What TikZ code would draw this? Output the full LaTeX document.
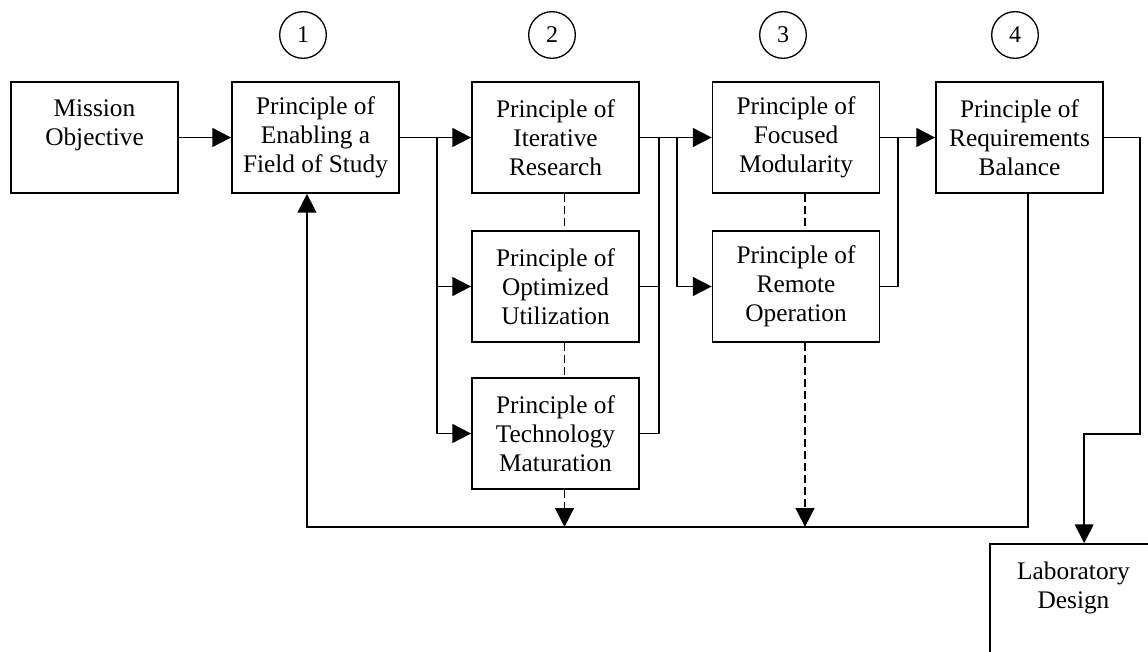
\documentclass[tikz,border=0pt]{standalone}
\usepackage{fontspec}
\setmainfont{Liberation Serif}
\usetikzlibrary{arrows.meta}
\tikzset{
  box/.style={draw, line width=1.3pt, minimum width=125.25pt, minimum height=83.25pt,
    align=center, inner sep=0pt, font=\fontsize{19}{21.75}\selectfont},
  num/.style={draw, circle, line width=1pt, minimum size=35pt, inner sep=0pt,
    font=\fontsize{18}{20}\selectfont},
  flow/.style={line width=1.3pt},
  arr/.style={flow, -{Triangle[length=14pt,width=14pt]}},
  linkdash/.style={flow, dash pattern=on 6pt off 3pt}
}

\begin{document}
\begin{tikzpicture}[x=0.75pt,y=-0.75pt]
    \useasboundingbox (0,0) rectangle (1148,652);
    \clip (0,0) rectangle (1148,652);
    %
    \node[num] (n1) at (303,35) {1};
    \node[num] (n2) at (552,35) {2};
    \node[num] (n3) at (783,35) {3};
    \node[num] (n4) at (1015,35) {4};
    %
    \node[box] (mission) at (94.5,137.5) {Mission\\Objective\\\mbox{}};
    \node[box] (enab) at (315.5,137.5) {Principle of\\Enabling a\\Field of Study};
    \node[box] (iter) at (555.5,137.5) {Principle of\\Iterative\\Research};
    \node[box] (optim) at (555.5,286.5) {Principle of\\Optimized\\Utilization};
    \node[box] (tech) at (555.5,433.5) {Principle of\\Technology\\Maturation};
    \node[box] (focus) at (796,137.5) {Principle of\\Focused\\Modularity};
    \node[box] (remote) at (796,286.5) {Principle of\\Remote\\Operation};
    \node[box] (req) at (1019.5,137.5) {Principle of\\Requirements\\Balance};
    \node[box] (lab) at (1073.5,599.5) {Laboratory\\Design\\\mbox{}};
    %
    \coordinate (b1) at (437,137.5);
    \coordinate (j2) at (659,137.5);
    \coordinate (b2) at (677,137.5);
    \coordinate (j3) at (898,137.5);
    \coordinate (labin) at ([xshift=8pt]lab.north);
    \coordinate (fbout) at ([xshift=6.4pt]req.south);
    \coordinate (fbin) at ([xshift=-6.4pt]enab.south);
    %
    \draw[arr] (mission) -- (enab);
    \draw[arr] (enab) -- (iter);
    \draw[arr] (b1) |- (optim);
    \draw[arr] (b1) |- (tech);
    \draw[arr] (iter) -- (focus);
    \draw[flow] (optim.east) -- (optim.east -| j2);
    \draw[flow] (tech.east) -| (j2);
    \draw[arr] (b2) |- (remote);
    \draw[arr] (focus) -- (req);
    \draw[flow] (remote.east) -| (j3);
    \draw[arr] (req.east) -| (1140,434) -| (labin);
    \draw[arr] (fbout) -- ++(0,333) -| (fbin);
    %
    \draw[linkdash] ([xshift=6.75pt]iter.south) -- ([xshift=6.75pt]optim.north);
    \draw[linkdash] ([xshift=6.75pt]optim.south) -- ([xshift=6.75pt]tech.north);
    \draw[linkdash] ([xshift=6.75pt]focus.south) -- ([xshift=6.75pt]remote.north);
    \draw[linkdash, -{Triangle[length=14pt,width=14pt]}] ([xshift=6.75pt]tech.south) -- ++(0,37);
    \draw[linkdash, -{Triangle[length=14pt,width=14pt]}] ([xshift=6.75pt]remote.south) -- ++(0,184);
\end{tikzpicture}
\end{document}
